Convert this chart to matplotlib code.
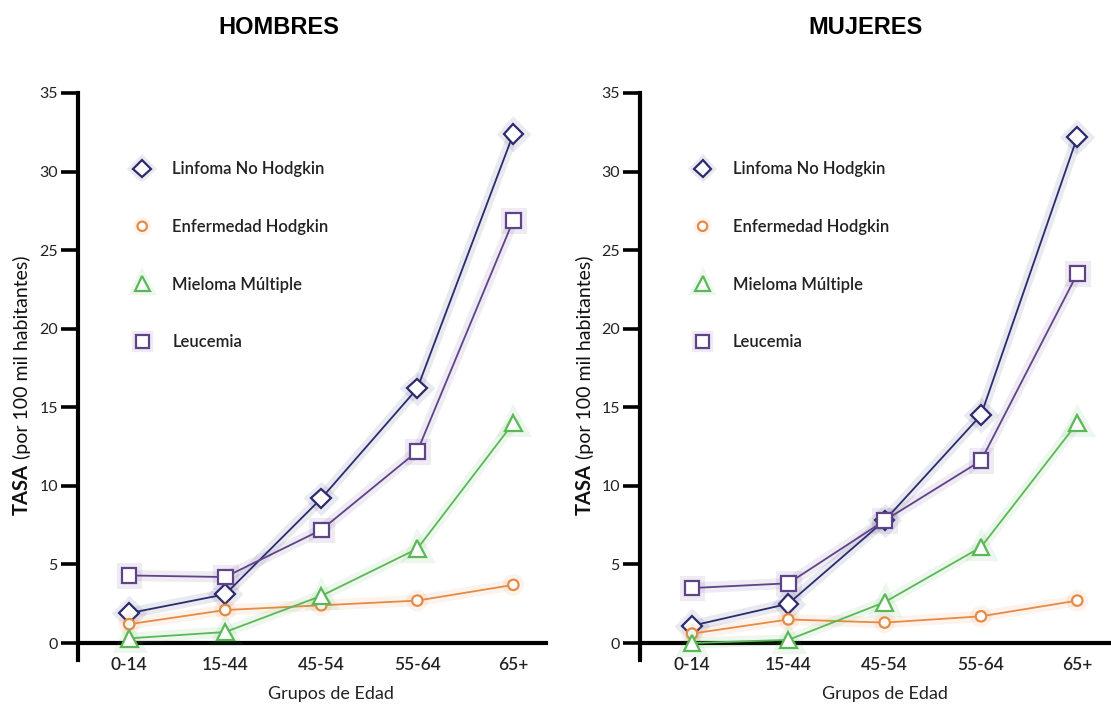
import matplotlib
matplotlib.use("Agg")
import matplotlib.pyplot as plt
import matplotlib.patheffects as pe
import numpy as np

categories = ["0-14", "15-44", "45-54", "55-64", "65+"]
series_names = ["Linfoma No Hodgkin", "Enfermedad Hodgkin", "Mieloma Múltiple", "Leucemia"]

hombres_linfoma = [1.9, 3.1, 9.2, 16.2, 32.4]
hombres_hodgkin = [1.2, 2.1, 2.4, 2.7, 3.7]
hombres_mieloma = [0.3, 0.7, 3.0, 6.0, 14.0]
hombres_leucemia = [4.3, 4.2, 7.2, 12.2, 26.9]

mujeres_linfoma = [1.1, 2.5, 7.8, 14.5, 32.2]
mujeres_hodgkin = [0.6, 1.5, 1.3, 1.7, 2.7]
mujeres_mieloma = [0.0, 0.2, 2.6, 6.1, 14.0]
mujeres_leucemia = [3.5, 3.8, 7.8, 11.6, 23.5]

panel_titles = ["HOMBRES", "MUJERES"]
y_ticks = [0, 5, 10, 15, 20, 25, 30, 35]

colors = ["#2b2b6e", "#e68a45", "#5ab857", "#5f4389"]
markers = ["D", "o", "^", "s"]
msizes = [10, 7.5, 12, 10.5]

FONT = "Lato"

fig = plt.figure(figsize=(11.11, 7.04), dpi=100)
W, H = 1111, 704

panels = [
    dict(title=panel_titles[0], data=[hombres_linfoma, hombres_hodgkin, hombres_mieloma, hombres_leucemia],
         ax_px=(78, 546), xlim=(-0.533, 4.34), title_x=279, ylab_x=22, grupos=0.54, leg_x=0.098),
    dict(title=panel_titles[1], data=[mujeres_linfoma, mujeres_hodgkin, mujeres_mieloma, mujeres_leucemia],
         ax_px=(640, 1111), xlim=(-0.54, 4.35), title_x=866, ylab_x=585, grupos=0.52, leg_x=0.094),
]

top_px, bot_px = 93, 660
for p in panels:
    x0, x1 = p["ax_px"]
    ax = fig.add_axes([x0 / W, 1 - bot_px / H, (x1 - x0) / W, (bot_px - top_px) / H])
    ax.set_xlim(*p["xlim"])
    ax.set_ylim(-1.08, 35)
    xs = np.arange(len(categories))
    handles = []
    for vals, name, c, m, ms in zip(p["data"], series_names, colors, markers, msizes):
        glow = [pe.Stroke(linewidth=8, foreground=c, alpha=0.10), pe.Normal()]
        ax.plot(xs, vals, color=c, lw=1.3, marker=m, markersize=ms,
                markerfacecolor="white", markeredgecolor=c, markeredgewidth=1.6,
                clip_on=False, zorder=3, path_effects=glow)
        h, = ax.plot([], [], ls="none", marker=m, markersize=ms * 0.9, markerfacecolor="white",
                     markeredgecolor=c, markeredgewidth=1.6, label=name,
                     path_effects=[pe.Stroke(linewidth=6, foreground=c, alpha=0.10), pe.Normal()])
        handles.append(h)
    for s in ["top", "right"]:
        ax.spines[s].set_visible(False)
    ax.spines["bottom"].set_position(("data", 0))
    for s in ["left", "bottom"]:
        ax.spines[s].set_linewidth(3.0)
        ax.spines[s].set_color("black")
        ax.spines[s].set_capstyle("projecting")
    ax.set_yticks(y_ticks)
    ax.set_yticklabels([str(v) for v in y_ticks], family=FONT, fontsize=11.5, color="#222222")
    ax.tick_params(axis="y", direction="out", length=12, width=2.6, pad=2.5, color="black")
    ax.set_xticks(xs)
    ax.set_xticklabels(categories, family=FONT, fontsize=12.5, fontweight="semibold", color="#222222")
    ax.tick_params(axis="x", length=0, pad=10)
    fig.text((x0 + p["grupos"] * (x1 - x0)) / W, 1 - 694 / H, "Grupos de Edad", ha="center", va="center",
             family=FONT, fontsize=13, color="#222222")
    leg = ax.legend(handles=handles, loc="upper left", bbox_to_anchor=(p["leg_x"], 0.894),
                    frameon=False, prop=dict(family=FONT, size=12, weight="semibold"),
                    labelspacing=2.5, handletextpad=1.2, handlelength=1.2, borderpad=0)
    for t in leg.get_texts():
        t.set_color("#222222")
    fig.text(p["title_x"] / W, 1 - 27 / H, p["title"], ha="center", va="center",
             family="Liberation Sans", fontweight="bold", fontsize=17)
    p["ax"] = ax

# y labels with bold "TASA" and regular remainder
fig.canvas.draw()
renderer = fig.canvas.get_renderer()
for p in panels:
    xlab = p["ylab_x"] / W
    t1 = fig.text(xlab, 1 - 515 / H, "TASA", rotation=90, ha="center", va="bottom",
                  family=FONT, fontweight="bold", fontsize=14.5, color="#111111")
    fig.canvas.draw()
    bb = t1.get_window_extent(renderer)
    fig.text(xlab, (bb.y1 + 5) / H, "(por 100 mil habitantes)", rotation=90, ha="center", va="bottom",
             family=FONT, fontsize=14, color="#111111")

fig.savefig("out.png", dpi=100)
